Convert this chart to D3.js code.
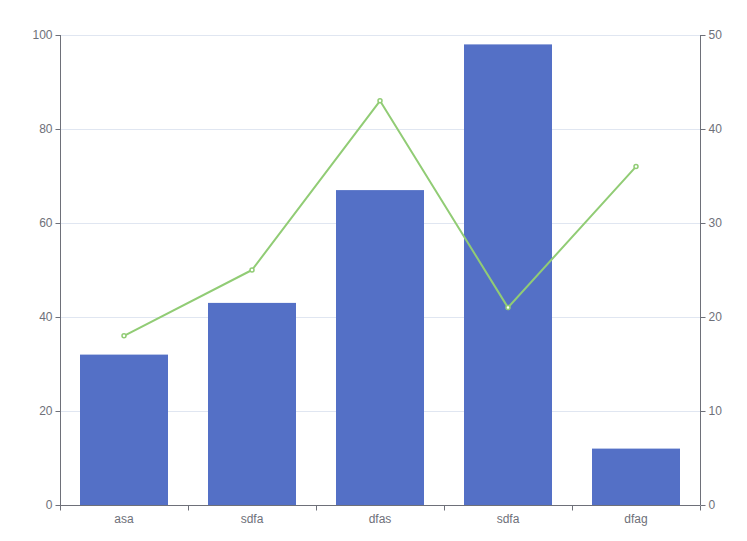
<!DOCTYPE html>
<html><head><meta charset="utf-8">
<script src="https://cdn.jsdelivr.net/npm/d3@7"></script>
<style>body{margin:0;background:#fff}svg{display:block}</style>
</head><body>
<svg id="c" width="747" height="541"></svg>
<script>
const categories = ["asa","sdfa","dfas","sdfa","dfag"];
const barValues = [32,43,67,98,12];
const lineValues = [18,25,43,21,36];
const leftTicks = [0,20,40,60,80,100];
const rightTicks = [0,10,20,30,40,50];

const svg = d3.select("#c");
const m = {l:60, r:700, t:35, b:505};
const font = "sans-serif";
const axisColor = "#6E7079";
const idx = categories.map((d,i)=>i);
const x = d3.scaleBand().domain(idx).range([m.l,m.r]).paddingInner(0).paddingOuter(0);
const yL = d3.scaleLinear().domain([0,100]).range([m.b,m.t]);
const yR = d3.scaleLinear().domain([0,50]).range([m.b,m.t]);

// grid
svg.append("g").selectAll("line").data(leftTicks.slice(1)).join("line")
  .attr("x1",m.l).attr("x2",m.r).attr("y1",d=>yL(d)+0.5).attr("y2",d=>yL(d)+0.5)
  .attr("stroke","#E0E6F1").attr("stroke-width",1);

// bars
const bw = x.bandwidth()*0.6875;
svg.append("g").selectAll("rect").data(barValues).join("rect")
  .attr("x",(d,i)=>x(i)+(x.bandwidth()-bw)/2).attr("width",bw)
  .attr("y",d=>yL(d)).attr("height",d=>yL(0)-yL(d)).attr("fill","#5470c6");

// axes
const gL = svg.append("g").attr("transform",`translate(${m.l+0.5},0)`)
  .call(d3.axisLeft(yL).tickValues(leftTicks).tickSize(5).tickPadding(3));
const gR = svg.append("g").attr("transform",`translate(${m.r+0.5},0)`)
  .call(d3.axisRight(yR).tickValues(rightTicks).tickSize(5).tickPadding(3));
const gX = svg.append("g").attr("transform",`translate(0,${m.b+0.5})`)
  .call(d3.axisBottom(x).tickFormat(i=>categories[i]).tickSize(0).tickPadding(9));
// x ticks at band boundaries
const bounds = idx.concat([categories.length]);
gX.append("g").selectAll("line").data(bounds).join("line")
  .attr("x1",i=>(i<categories.length?x(i):m.r)+0.5).attr("x2",i=>(i<categories.length?x(i):m.r)+0.5)
  .attr("y1",0).attr("y2",5).attr("stroke",axisColor);

[gL,gR,gX].forEach(g=>{
  g.select(".domain").attr("stroke",axisColor);
  g.selectAll(".tick line").attr("stroke",axisColor);
  g.selectAll("text").attr("fill",axisColor).attr("font-size",12).attr("font-family",font);
});
gL.select(".domain").attr("d",`M0,${m.t}V${m.b}`);
gR.select(".domain").attr("d",`M0,${m.t}V${m.b}`);
gX.select(".domain").attr("d",`M${m.l},0H${m.r}`);

// line
const line = d3.line().x((d,i)=>x(i)+x.bandwidth()/2).y(d=>yR(d));
svg.append("path").datum(lineValues).attr("d",line)
  .attr("fill","none").attr("stroke","#91cc75").attr("stroke-width",2).attr("stroke-linejoin","bevel");
svg.append("g").selectAll("circle").data(lineValues).join("circle")
  .attr("cx",(d,i)=>x(i)+x.bandwidth()/2).attr("cy",d=>yR(d)).attr("r",2)
  .attr("fill","#fff").attr("stroke","#91cc75").attr("stroke-width",1.5);
</script>
</body></html>
